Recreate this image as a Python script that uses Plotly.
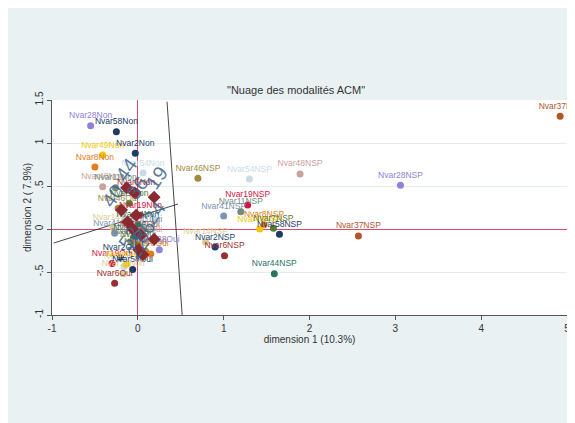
import plotly.graph_objects as go

# ---- data: active categories (MCA coordinates, dimension 1 / dimension 2) ----
cat_names = [
    "Nvar37Non", "Nvar28NSP", "Nvar37NSP", "Nvar48NSP", "Nvar54NSP", "Nvar46NSP",
    "Nvar19NSP", "Nvar11NSP", "Nvar41NSP", "Nvar8NSP", "Nvar49NSP", "Nvar7NSP",
    "Nvar58NSP", "Nvar44NSP", "Nvar14NSP", "Nvar2NSP", "Nvar6NSP",
    "Nvar28Non", "Nvar58Non", "Nvar49Non", "Nvar2Non", "Nvar8Non", "Nvar54Non",
    "Nvar48Non", "Nvar11Non", "Nvar6Non", "Nvar46Oui", "Nvar19Non", "Nvar14Oui",
    "Nvar41Non", "Nvar7Non", "Nvar44Non", "Nvar37Oui", "Nvar41Oui", "Nvar44Oui",
    "Nvar48Oui", "Nvar11Oui", "Nvar7Oui", "Nvar46Non", "Nvar8Oui", "Nvar28Oui",
    "Nvar2Oui", "Nvar19Oui", "Nvar54Oui", "Nvar49Oui", "Nvar58Oui", "Nvar14Non",
    "Nvar6Oui",
]
cat_x = [
    4.92, 3.06, 2.57, 1.89, 1.30, 0.70,
    1.28, 1.20, 1.00, 1.47, 1.42, 1.58,
    1.65, 1.59, 0.79, 0.90, 1.01,
    -0.55, -0.25, -0.41, -0.03, -0.50, 0.06,
    -0.41, -0.26, -0.02, -0.23, 0.03, -0.29,
    -0.27, -0.10, 0.00, 0.02, 0.05, -0.05,
    0.05, -0.08, 0.00, 0.09, 0.15, 0.25,
    -0.20, -0.30, -0.16, -0.13, -0.06, -0.17,
    -0.27,
]
cat_y = [
    1.31, 0.51, -0.08, 0.64, 0.58, 0.59,
    0.28, 0.20, 0.15, 0.05, 0.00, 0.01,
    -0.06, -0.52, -0.15, -0.21, -0.31,
    1.20, 1.13, 0.86, 0.88, 0.72, 0.65,
    0.49, 0.48, 0.43, 0.24, 0.16, 0.02,
    -0.05, 0.30, 0.05, -0.06, 0.00, -0.10,
    -0.12, -0.15, -0.18, -0.26, -0.29, -0.24,
    -0.33, -0.40, -0.44, -0.41, -0.47, -0.52,
    -0.63,
]

# ---- data: supplementary individuals (diamonds) ----
sup_x = [-0.13, -0.035, 0.19, -0.19, -0.02, -0.12, -0.06, 0.035, 0.19, 0.01, 0.06]
sup_y = [0.48, 0.42, 0.37, 0.22, 0.16, 0.08, 0.00, -0.07, -0.12, -0.24, -0.30]

# large rotated identifiers of the supplementary individuals
id_text = ["40", "44", "19", "36", "24", "52", "36", "22"]
id_x = [-0.29, -0.14, 0.22, -0.01, 0.19, -0.10, 0.07, 0.00]
id_y = [0.38, 0.69, 0.59, 0.48, 0.19, -0.10, -0.03, -0.22]

# ---- data: two oblique reference lines ----
line1_x = [0.34, 0.525]
line1_y = [1.48, -1.12]
line2_x = [-0.98, 0.467]
line2_y = [-0.163, 0.29]

# axis ticks
x_ticks = [-1, 0, 1, 2, 3, 4, 5]
x_ticktext = ["-1", "0", "1", "2", "3", "4", "5"]
y_ticks = [-1, -0.5, 0, 0.5, 1, 1.5]
y_ticktext = ["-1", "-.5", "0", ".5", "1", "1.5"]

# ---- styles ----
palette = {
    "37": "#b0562a", "28": "#8f82d8", "48": "#c9a39b", "54": "#c9dce6",
    "46": "#a08a42", "19": "#d2143f", "11": "#6f8c7c", "41": "#7d94b5",
    "8": "#e57b1e", "49": "#f7c600", "7": "#5b7a2e", "58": "#1b3a66",
    "44": "#2a7464", "14": "#d9cd92", "2": "#1d3f6e", "6": "#9c2f33",
}


def var_of(name):
    core = name[4:]
    return "".join(ch for ch in core if ch.isdigit())


cat_colors = [palette[var_of(n)] for n in cat_names]

FONT = "Arial, Liberation Sans, sans-serif"
BG = "#e9f1f3"
W, H = 567, 415

fig = go.Figure()

# oblique lines
for lx, ly in [(line1_x, line1_y), (line2_x, line2_y)]:
    fig.add_trace(go.Scatter(x=lx, y=ly, mode="lines",
                             line=dict(color="#333333", width=0.9),
                             hoverinfo="skip", showlegend=False))

# active categories
fig.add_trace(go.Scatter(
    x=cat_x, y=cat_y, mode="markers+text", text=cat_names,
    textposition="top center",
    textfont=dict(size=8.5, color=cat_colors, family=FONT),
    marker=dict(size=7, color=cat_colors),
    cliponaxis=False, showlegend=False,
))

# supplementary individuals
fig.add_trace(go.Scatter(
    x=sup_x, y=sup_y, mode="markers",
    marker=dict(size=10, symbol="diamond", color="#8a2a30"),
    showlegend=False,
))

for t, x, y in zip(id_text, id_x, id_y):
    fig.add_annotation(x=x, y=y, text=t, showarrow=False, textangle=-55,
                       font=dict(size=20, color="rgba(62,100,140,0.85)", family=FONT))

fig.update_layout(
    width=W, height=H,
    margin=dict(l=44, r=8, t=92, b=108, autoexpand=False),
    paper_bgcolor=BG, plot_bgcolor="white",
    font=dict(family=FONT, color="#333333"),
    title=dict(text='"Nuage des modalités ACM"', x=0.508, xref="container",
               y=1 - 82 / H, yref="container", yanchor="middle", xanchor="center",
               font=dict(size=11, color="#333333", family=FONT)),
)

fig.update_xaxes(range=[-1, 5], tickvals=x_ticks, ticktext=x_ticktext, automargin=False,
                 showgrid=False, zeroline=True, zerolinecolor="#d8486c", zerolinewidth=1,
                 showline=True, linecolor="#555555", linewidth=1,
                 ticks="outside", ticklen=4, tickcolor="#555555",
                 tickfont=dict(size=10, color="#333333"),
                 title=dict(text="dimension 1 (10.3%)", font=dict(size=10, color="#333333"),
                            standoff=2))
fig.update_yaxes(range=[-1, 1.5], tickvals=y_ticks, ticktext=y_ticktext, tickangle=-90,
                 automargin=False,
                 showgrid=True, gridcolor="#e3edf0", gridwidth=1,
                 zeroline=True, zerolinecolor="#d8486c", zerolinewidth=1,
                 showline=True, linecolor="#555555", linewidth=1,
                 ticks="outside", ticklen=4, tickcolor="#555555",
                 tickfont=dict(size=10, color="#333333"),
                 title=dict(text="dimension 2 ( 7.9%)", font=dict(size=10, color="#333333"),
                            standoff=0))

fig.write_html("out.html")
